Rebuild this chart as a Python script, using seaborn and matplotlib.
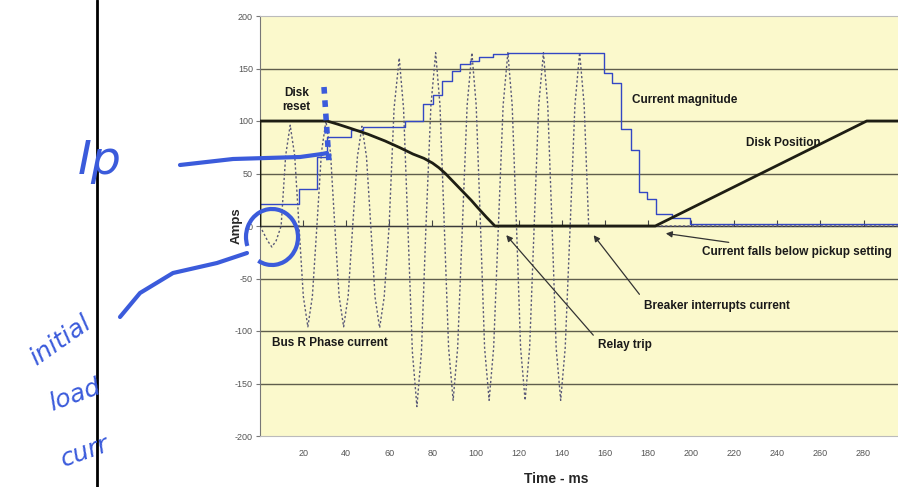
import pandas as pd
import seaborn as sns
import matplotlib.pyplot as plt
from matplotlib.lines import Line2D
from matplotlib.patches import Arc
from matplotlib.transforms import Affine2D

# Bus R phase current, time in ms and amps
phase_t = [0.0, 3.5, 5.5, 7.5, 9.8,
           11.9, 14.0, 16.1, 18.1, 20.1, 22.2, 24.3, 26.4,
           28.5, 30.6, 32.7, 34.7, 36.7, 38.8, 40.9, 43.0,
           45.2, 47.3, 49.4, 51.4, 53.4, 55.5, 57.6, 59.9,
           62.2, 64.6, 66.6, 68.6, 70.7, 72.8, 74.9, 77.0,
           79.3, 81.5, 83.5, 85.5, 87.5, 89.6, 91.7, 93.9,
           96.1, 98.3, 100.3, 102.3, 104.2, 106.3, 108.4, 110.6,
           112.8, 115.0, 117.0, 119.0, 120.9, 123.0, 125.1, 127.2,
           129.3, 131.5, 133.5, 135.5, 137.4, 139.5, 141.6, 143.9,
           146.1, 148.3, 150.4, 152.5, 296.0]
phase_a = [0, -14, -20, -14, 0,
           67, 96, 67, 0, -67, -96, -67, 0,
           70, 100, 70, 0, -67, -96, -67, 0,
           66, 95, 66, 0, -68, -97, -68, 0,
           112, 160, 112, 0, -120, -172, -120, 0,
           115, 165, 115, 0, -116, -166, -116, 0,
           115, 165, 115, 0, -116, -166, -116, 0,
           115, 165, 115, 0, -116, -166, -116, 0,
           115, 165, 115, 0, -116, -166, -116, 0,
           115, 165, 115, 0, 0]

# current magnitude (stepped)
mag_t = [0, 18.0, 26.5, 31.1, 42.0, 48.0, 67.4, 75.8, 80.4, 84.5, 89.0,
         92.6, 97.6, 101.5, 108.0, 115.0, 159.5, 163.4, 167.5, 171.9, 175.9,
         179.6, 183.5, 191.2, 199.7, 296]
mag_a = [21, 35, 66, 85, 91.5, 94.5, 100, 116, 125, 138, 148,
         154, 157, 161, 163.5, 165, 146, 136, 92, 72, 32,
         26, 11, 8, 2, 2]

# disk position
disk_t = [0, 0, 31.1, 36, 42, 50, 58, 65, 71, 76, 80, 83, 86, 90, 94,
          98, 101, 105, 109, 183.4, 281.5, 296]
disk_a = [0, 100, 100, 97, 93, 87.5, 81, 74.5, 68.5, 64.5, 60, 55.5, 50,
          41.5, 33, 24.5, 17.5, 8.5, 0, 0, 100, 100]

y_ticks = [-200, -150, -100, -50, 0, 50, 100, 150, 200]
x_ticks = list(range(20, 300, 20))

sns.set_style("white")
plt.rcParams["font.family"] = ["Liberation Sans", "DejaVu Sans"]
plt.rcParams["axes.unicode_minus"] = False

fig = plt.figure(figsize=(8.98, 4.87), dpi=100)
ax = fig.add_axes([260 / 898, 1 - 436 / 487, 638 / 898, 420 / 487])
ax.set_facecolor("#fbf9cc")

for y in [-150, -100, -50, 50, 100, 150]:
    ax.axhline(y, color="#5f5e4c", lw=1.0, zorder=1)
ax.axhline(0, color="#3a3a3a", lw=1.0, zorder=1)

sns.lineplot(x=phase_t, y=phase_a, ax=ax, estimator=None, sort=False,
             color="#5a5a78", lw=1.0, linestyle=(0, (1.6, 1.6)), zorder=2)
sns.lineplot(x=mag_t, y=mag_a, ax=ax, estimator=None, sort=False,
             color="#3347c4", lw=1.0, drawstyle="steps-post", zorder=3)
sns.lineplot(x=disk_t, y=disk_a, ax=ax, estimator=None, sort=False,
             color="#1e1e14", lw=2.0, zorder=4)

ax.set_xlim(0, 296)
ax.set_ylim(-200, 200)
ax.set_yticks(y_ticks)
ax.set_xticks(x_ticks)
ax.tick_params(axis="y", length=3, width=0.8, color="#777777", labelsize=6.5,
               labelcolor="#555555", pad=2, left=True)
ax.tick_params(axis="x", length=0, labelsize=6.5, labelcolor="#555555", pad=9)

sec = ax.secondary_xaxis(0.5)
sec.set_xticks(x_ticks)
sec.set_xticklabels([])
sec.tick_params(length=4, width=0.8, color="#444444", direction="out")
sec.spines["bottom"].set_color("#3a3a3a")

for side, col in [("left", "#777777"), ("top", "#bbbbbb"), ("bottom", "#bbbbbb")]:
    ax.spines[side].set_color(col)
ax.spines["right"].set_visible(False)

ax.set_ylabel("Amps", fontsize=9.5, fontweight="bold")
ax.yaxis.set_label_coords(-0.027, 0.5)
ax.set_xlabel("Time - ms", fontsize=10, fontweight="bold")
ax.xaxis.set_label_coords(0.464, -0.086)

txt = dict(fontsize=8.5, fontweight="bold", color="#1a1a1a")
ax.text(17, 120, "Disk\nreset", ha="center", va="center", linespacing=1.3, **txt)
ax.text(172.8, 120, "Current magnitude", ha="left", va="center", **txt)
ax.text(225.7, 79, "Disk Position", ha="left", va="center", **txt)
ax.text(5.7, -111, "Bus R Phase current", ha="left", va="center", **txt)

arrow = dict(arrowstyle="-|>", color="#333333", lw=0.9, mutation_scale=9)
ax.annotate("Current falls below pickup setting", xy=(187, -6.7), xytext=(205, -24.8),
            ha="left", va="center", arrowprops=arrow, **txt)
ax.annotate("Breaker interrupts current", xy=(154, -6.7), xytext=(178, -76),
            ha="left", va="center", arrowprops=dict(arrow, relpos=(0, 1)), **txt)
ax.annotate("Relay trip", xy=(113.4, -6.7), xytext=(157, -113),
            ha="left", va="center", arrowprops=dict(arrow, relpos=(0, 0.8)), **txt)

# handwritten notes on the scan
pix = Affine2D().scale(1 / 100, -1 / 100).translate(0, 4.87) + fig.dpi_scale_trans
ink = "#3b5bdb"
fig.add_artist(Line2D([97, 97], [0, 487], transform=pix, color="black", lw=2))
fig.add_artist(Line2D([180, 233, 300, 322, 327], [165, 159, 157, 154, 153],
                      transform=pix, color=ink, lw=3, solid_capstyle="round"))
fig.add_artist(Line2D([120, 140, 173, 217, 247], [317, 293, 273, 263, 253],
                      transform=pix, color=ink, lw=3, solid_capstyle="round"))
fig.add_artist(Arc((272, 237), 52, 56, theta1=-200, theta2=120, transform=pix,
                   color=ink, lw=3))
fig.add_artist(Line2D([324, 329], [87, 162], transform=pix, color=ink, lw=4,
                      linestyle=(0, (1.2, 1.2))))
fig.text(100 / 898, 1 - 162 / 487, "Ip", color=ink, fontsize=34, ha="center",
         va="center", fontstyle="italic", family="DejaVu Sans")
fig.text(60 / 898, 1 - 340 / 487, "initial", color=ink, fontsize=18, rotation=35,
         ha="center", va="center", fontstyle="italic", family="DejaVu Sans")
fig.text(75 / 898, 1 - 395 / 487, "load", color=ink, fontsize=18, rotation=20,
         ha="center", va="center", fontstyle="italic", family="DejaVu Sans")
fig.text(85 / 898, 1 - 452 / 487, "curr", color=ink, fontsize=18, rotation=20,
         ha="center", va="center", fontstyle="italic", family="DejaVu Sans")

fig.savefig("out.png", dpi=100, facecolor="white")
